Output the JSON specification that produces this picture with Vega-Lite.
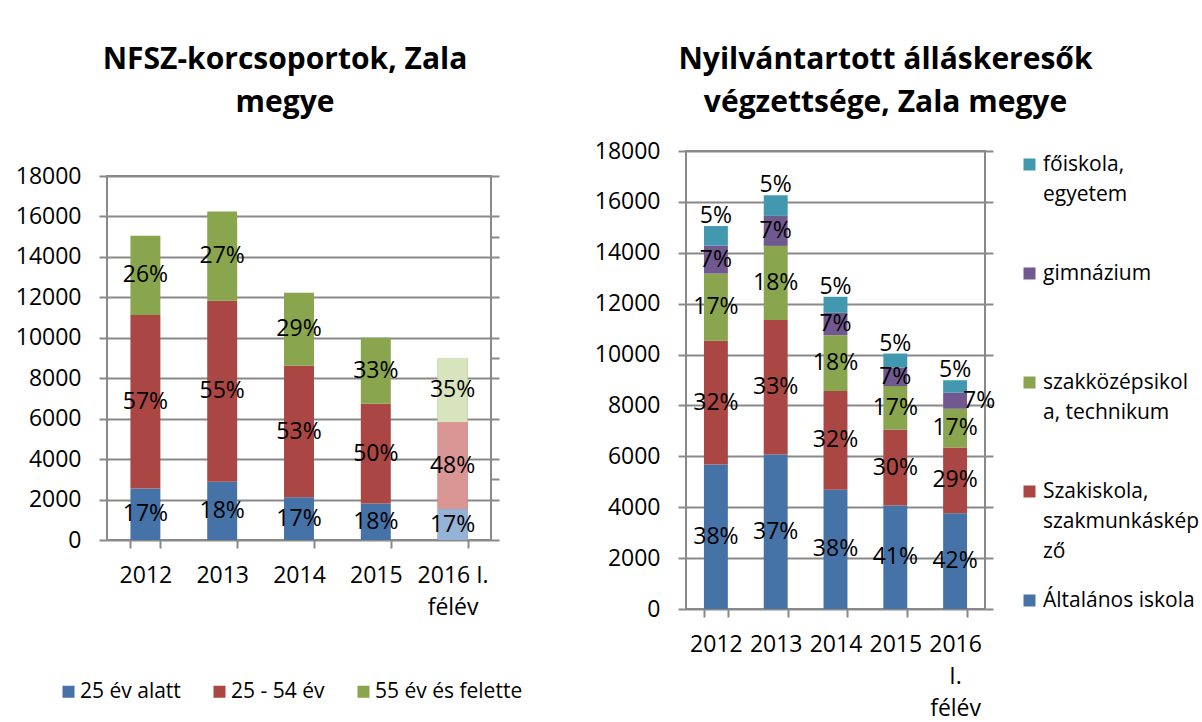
{
  "$schema": "https://vega.github.io/schema/vega-lite/v6.json",
  "autosize": {"type": "none"},
  "padding": {"left": 107, "top": 151, "right": 1095, "bottom": 571},
  "background": "white",
  "bounds": "flush",
  "spacing": 579,
  "resolve": {"scale": {"color": "independent", "fill": "independent"}, "legend": {"color": "independent", "fill": "independent"}},
  "config": {
    "font": "Open Sans",
    "view": {"stroke": "#898989", "strokeWidth": 2},
    "axis": {"labelFont": "Open Sans", "labelFontSize": 23, "labelColor": "black", "tickColor": "#898989", "tickWidth": 2, "tickSize": 8, "gridColor": "#898989", "gridWidth": 2, "domain": false},
    "legend": {"labelFont": "Open Sans", "labelFontSize": 21, "labelColor": "black", "symbolType": "square", "symbolSize": 144, "symbolStrokeWidth": 0, "labelLimit": 400},
    "title": {"font": "Open Sans", "fontSize": 30, "fontWeight": "bold", "color": "black"}
  },
  "hconcat": [
    {
      "bounds": "flush",
      "spacing": 0,
      "vconcat": [
        {"width": 384, "height": 25, "data": {"values": []}, "mark": "point", "encoding": {}, "view": {"stroke": null}},
        {
          "width": 384,
          "height": 364,
          "title": {"text": ["NFSZ-korcsoportok, Zala", "megye"], "lineHeight": 43, "baseline": "alphabetic", "offset": 23, "dx": -14, "frame": "group", "anchor": "middle"},
          "data": {"values": [
            {"year": "2012", "cat": "25 év alatt", "o": 1, "value": 2550, "pct": "17%"},
            {"year": "2012", "cat": "25 - 54 év", "o": 2, "value": 8580, "pct": "57%"},
            {"year": "2012", "cat": "55 év és felette", "o": 3, "value": 3920, "pct": "26%"},
            {"year": "2013", "cat": "25 év alatt", "o": 1, "value": 2880, "pct": "18%"},
            {"year": "2013", "cat": "25 - 54 év", "o": 2, "value": 8950, "pct": "55%"},
            {"year": "2013", "cat": "55 év és felette", "o": 3, "value": 4410, "pct": "27%"},
            {"year": "2014", "cat": "25 év alatt", "o": 1, "value": 2110, "pct": "17%"},
            {"year": "2014", "cat": "25 - 54 év", "o": 2, "value": 6510, "pct": "53%"},
            {"year": "2014", "cat": "55 év és felette", "o": 3, "value": 3610, "pct": "29%"},
            {"year": "2015", "cat": "25 év alatt", "o": 1, "value": 1810, "pct": "18%"},
            {"year": "2015", "cat": "25 - 54 év", "o": 2, "value": 4930, "pct": "50%"},
            {"year": "2015", "cat": "55 év és felette", "o": 3, "value": 3260, "pct": "33%"},
            {"year": "2016 I. félév", "cat": "25 év alatt", "o": 1, "value": 1530, "pct": "17%"},
            {"year": "2016 I. félév", "cat": "25 - 54 év", "o": 2, "value": 4300, "pct": "48%"},
            {"year": "2016 I. félév", "cat": "55 év és felette", "o": 3, "value": 3170, "pct": "35%"}
          ]},
          "encoding": {
            "x": {"field": "year", "type": "nominal", "title": null,
              "scale": {"domain": ["2012", "2013", "2014", "2015", "2016 I. félév"], "paddingInner": 0.61, "paddingOuter": 0.305},
              "axis": {"labelAngle": 0, "tickBand": "extent", "labelPadding": 16, "labelLineHeight": 32, "grid": false,
                "labelExpr": "datum.label == '2016 I. félév' ? ['2016 I.', 'félév'] : datum.label"}}
          },
          "layer": [
            {
              "mark": {"type": "bar"},
              "encoding": {
                "y": {"field": "value", "type": "quantitative", "stack": "zero", "title": null,
                  "scale": {"domain": [0, 18000], "nice": false},
                  "axis": {"values": [0, 2000, 4000, 6000, 8000, 10000, 12000, 14000, 16000, 18000], "format": "d", "grid": true, "labelPadding": 18}},
                "color": {"field": "cat", "type": "nominal",
                  "scale": {"domain": ["25 év alatt", "25 - 54 év", "55 év és felette"], "range": ["#4572A7", "#AA4643", "#89A54E"]},
                  "legend": {"title": null, "orient": "none", "legendX": -49, "legendY": 530, "direction": "horizontal", "columnPadding": 28, "labelOffset": 1}},
                "order": {"field": "o"}
              }
            },
            {
              "transform": [{"filter": "datum.year == '2016 I. félév'"}],
              "mark": {"type": "bar"},
              "encoding": {
                "y": {"field": "value", "type": "quantitative", "stack": "zero", "title": null,
                  "axis": {"orient": "right", "labels": false, "grid": false, "ticks": true, "values": [0, 2000, 3000, 4000, 6000, 8000, 9000, 10000, 12000, 14000, 15000, 16000, 18000]}},
                "fill": {"field": "cat", "type": "nominal",
                  "scale": {"domain": ["25 év alatt", "25 - 54 év", "55 év és felette"], "range": ["#95B3D7", "#D99694", "#D7E4BD"]},
                  "legend": null},
                "order": {"field": "o"}
              }
            },
            {
              "transform": [
                {"stack": "value", "groupby": ["year"], "sort": [{"field": "o", "order": "ascending"}], "as": ["v0", "v1"]},
                {"fold": ["v0", "v1"], "as": ["edge", "pos"]},
                {"aggregate": [{"op": "mean", "field": "pos", "as": "mid"}], "groupby": ["year", "cat", "pct"]}
              ],
              "mark": {"type": "text", "fontSize": 23, "color": "black", "font": "Open Sans"},
              "encoding": {
                "y": {"field": "mid", "type": "quantitative", "axis": null},
                "text": {"field": "pct", "type": "nominal"}
              }
            }
          ],
          "resolve": {"axis": {"y": "independent"}}
        }
      ]
    },
    {
      "width": 299,
      "height": 458,
      "title": {"text": ["Nyilvántartott álláskeresők", "végzettsége, Zala megye"], "lineHeight": 43, "baseline": "alphabetic", "offset": -2, "dx": 50, "frame": "group", "anchor": "middle"},
      "data": {"values": [
        {"year": "2012", "cat": "Általános iskola", "o": 1, "value": 5680, "pct": "38%"},
        {"year": "2012", "cat": "Szakiskola, szakmunkásképző", "o": 2, "value": 4860, "pct": "32%"},
        {"year": "2012", "cat": "szakközépsikola, technikum", "o": 3, "value": 2640, "pct": "17%"},
        {"year": "2012", "cat": "gimnázium", "o": 4, "value": 1100, "pct": "7%"},
        {"year": "2012", "cat": "főiskola, egyetem", "o": 5, "value": 770, "pct": "5%"},
        {"year": "2013", "cat": "Általános iskola", "o": 1, "value": 6070, "pct": "37%"},
        {"year": "2013", "cat": "Szakiskola, szakmunkásképző", "o": 2, "value": 5290, "pct": "33%"},
        {"year": "2013", "cat": "szakközépsikola, technikum", "o": 3, "value": 2910, "pct": "18%"},
        {"year": "2013", "cat": "gimnázium", "o": 4, "value": 1180, "pct": "7%"},
        {"year": "2013", "cat": "főiskola, egyetem", "o": 5, "value": 810, "pct": "5%"},
        {"year": "2014", "cat": "Általános iskola", "o": 1, "value": 4690, "pct": "38%"},
        {"year": "2014", "cat": "Szakiskola, szakmunkásképző", "o": 2, "value": 3880, "pct": "32%"},
        {"year": "2014", "cat": "szakközépsikola, technikum", "o": 3, "value": 2190, "pct": "18%"},
        {"year": "2014", "cat": "gimnázium", "o": 4, "value": 880, "pct": "7%"},
        {"year": "2014", "cat": "főiskola, egyetem", "o": 5, "value": 630, "pct": "5%"},
        {"year": "2015", "cat": "Általános iskola", "o": 1, "value": 4070, "pct": "41%"},
        {"year": "2015", "cat": "Szakiskola, szakmunkásképző", "o": 2, "value": 2970, "pct": "30%"},
        {"year": "2015", "cat": "szakközépsikola, technikum", "o": 3, "value": 1720, "pct": "17%"},
        {"year": "2015", "cat": "gimnázium", "o": 4, "value": 730, "pct": "7%"},
        {"year": "2015", "cat": "főiskola, egyetem", "o": 5, "value": 550, "pct": "5%"},
        {"year": "2016 I. félév", "cat": "Általános iskola", "o": 1, "value": 3760, "pct": "42%"},
        {"year": "2016 I. félév", "cat": "Szakiskola, szakmunkásképző", "o": 2, "value": 2590, "pct": "29%"},
        {"year": "2016 I. félév", "cat": "szakközépsikola, technikum", "o": 3, "value": 1520, "pct": "17%"},
        {"year": "2016 I. félév", "cat": "gimnázium", "o": 4, "value": 630, "pct": "7%"},
        {"year": "2016 I. félév", "cat": "főiskola, egyetem", "o": 5, "value": 490, "pct": "5%"}
      ]},
      "encoding": {
        "x": {"field": "year", "type": "nominal", "title": null,
          "scale": {"domain": ["2012", "2013", "2014", "2015", "2016 I. félév"], "paddingInner": 0.6, "paddingOuter": 0.3},
          "axis": {"labelAngle": 0, "tickBand": "extent", "labelPadding": 16, "labelLineHeight": 32, "grid": false,
            "labelExpr": "datum.label == '2016 I. félév' ? ['2016', 'I.', 'félév'] : datum.label"}}
      },
      "layer": [
        {
          "mark": {"type": "bar"},
          "encoding": {
            "y": {"field": "value", "type": "quantitative", "stack": "zero", "title": null,
              "scale": {"domain": [0, 18000], "nice": false},
              "axis": {"values": [0, 2000, 4000, 6000, 8000, 10000, 12000, 14000, 16000, 18000], "format": "d", "grid": true, "labelPadding": 18}},
            "color": {"field": "cat", "type": "nominal",
              "scale": {"domain": ["Általános iskola", "Szakiskola, szakmunkásképző", "szakközépsikola, technikum", "gimnázium", "főiskola, egyetem"], "range": ["#4572A7", "#AA4643", "#89A54E", "#71588F", "#4198AF"]},
              "legend": {"title": null, "orient": "none", "legendX": 333, "legendY": 3, "direction": "vertical",
                "values": ["főiskola, egyetem", "gimnázium", "szakközépsikola, technikum", "Szakiskola, szakmunkásképző", "Általános iskola"],
                "labelExpr": "datum.label == 'főiskola, egyetem' ? ['főiskola,', 'egyetem'] : datum.label == 'szakközépsikola, technikum' ? ['szakközépsikol', 'a, technikum'] : datum.label == 'Szakiskola, szakmunkásképző' ? ['Szakiskola,', 'szakmunkáskép', 'ző'] : datum.label",
                "gridAlign": "all", "rowPadding": 27, "labelOffset": 3,
                "encode": {"labels": {"update": {"lineHeight": {"value": 30}}}}}},
            "order": {"field": "o"}
          }
        },
        {
          "mark": {"type": "tick", "opacity": 0},
          "encoding": {
            "y": {"field": "value", "type": "quantitative", "stack": "zero", "title": null,
              "axis": {"orient": "right", "labels": false, "grid": false, "ticks": true, "values": [0, 2000, 4000, 6000, 8000, 10000, 12000, 14000, 16000, 18000]}},
            "order": {"field": "o"}
          }
        },
        {
          "transform": [
            {"stack": "value", "groupby": ["year"], "sort": [{"field": "o", "order": "ascending"}], "as": ["v0", "v1"]},
            {"fold": ["v0", "v1"], "as": ["edge", "pos"]},
            {"aggregate": [{"op": "mean", "field": "pos", "as": "mid"}], "groupby": ["year", "cat", "pct"]},
            {"filter": "datum.cat != 'főiskola, egyetem' && !(datum.cat == 'gimnázium' && datum.year == '2016 I. félév')"}
          ],
          "mark": {"type": "text", "fontSize": 23, "color": "black", "font": "Open Sans"},
          "encoding": {
            "y": {"field": "mid", "type": "quantitative", "axis": null},
            "text": {"field": "pct", "type": "nominal"}
          }
        },
        {
          "transform": [
            {"stack": "value", "groupby": ["year"], "sort": [{"field": "o", "order": "ascending"}], "as": ["v0", "v1"]},
            {"fold": ["v0", "v1"], "as": ["edge", "pos"]},
            {"aggregate": [{"op": "mean", "field": "pos", "as": "mid"}], "groupby": ["year", "cat", "pct"]},
            {"filter": "datum.cat == 'gimnázium' && datum.year == '2016 I. félév'"}
          ],
          "mark": {"type": "text", "fontSize": 23, "color": "black", "font": "Open Sans", "dx": 24},
          "encoding": {
            "y": {"field": "mid", "type": "quantitative", "axis": null},
            "text": {"field": "pct", "type": "nominal"}
          }
        },
        {
          "transform": [
            {"stack": "value", "groupby": ["year"], "sort": [{"field": "o", "order": "ascending"}], "as": ["v0", "v1"]},
            {"filter": "datum.cat == 'főiskola, egyetem'"}
          ],
          "mark": {"type": "text", "fontSize": 23, "color": "black", "font": "Open Sans", "dy": -10},
          "encoding": {
            "y": {"field": "v1", "type": "quantitative", "axis": null},
            "text": {"field": "pct", "type": "nominal"}
          }
        }
      ],
      "resolve": {"axis": {"y": "independent"}}
    }
  ]
}
